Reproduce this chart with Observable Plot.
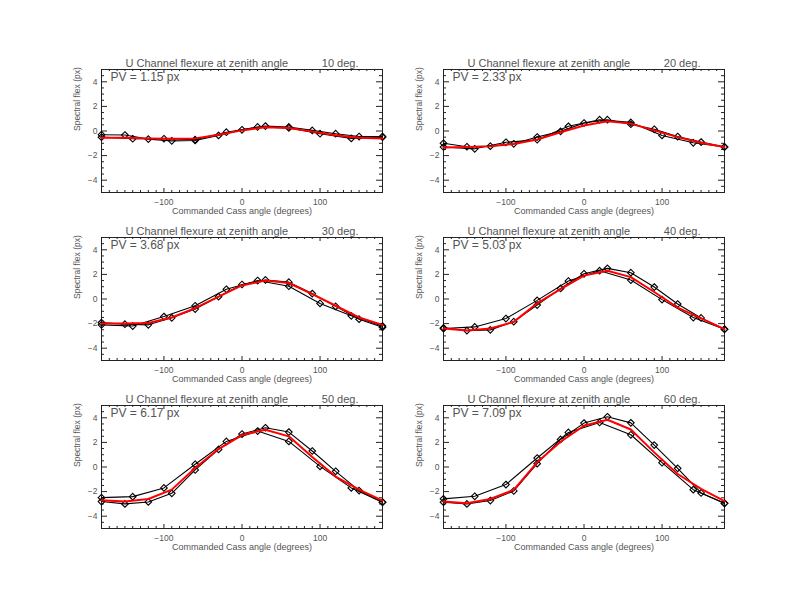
<!DOCTYPE html>
<html><head><meta charset="utf-8">
<script src="https://cdn.jsdelivr.net/npm/d3@7"></script>
<script src="https://cdn.jsdelivr.net/npm/@observablehq/plot@0.6"></script>
<style>
html,body{margin:0;padding:0;background:#fff;}
#wrap{position:relative;width:792px;height:612px;overflow:hidden;background:#fff;}
#wrap svg{position:absolute;overflow:visible;}
</style></head><body><div id="wrap"></div>
<script>
// Zenith angles and peak-to-valley labels
const zenithAngles = [10, 20, 30, 40, 50, 60];
const pvLabels = ["1.15", "2.33", "3.68", "5.03", "6.17", "7.09"];

// Commanded Cass angles of the two sweeps
const xSweepA = [-180, -150, -120, -90, -60, -30, 0, 30, 60, 90, 120, 150, 180];
const xSweepB = [-180, -140, -100, -60, -20, 20, 60, 100, 140, 180];

// Tick values
const xMajorTicks = [-100, 0, 100];
const yMajorTicks = [-4, -2, 0, 2, 4];
const xMinorTicks = d3.range(-180, 181, 10).filter(v => !xMajorTicks.includes(v));
const yMinorTicks = d3.range(-5, 5.01, 0.5).filter(v => !yMajorTicks.includes(v));

// Spectral flex (px), sweep A (every 30 deg)
const sweepA10 = [-0.30, -0.33, -0.66, -0.80, -0.77, -0.36, 0.10, 0.40, 0.33, 0.05, -0.22, -0.45, -0.45];
const sweepA20 = [-1.00, -1.28, -1.23, -1.04, -0.49, -0.03, 0.65, 0.92, 0.55, 0.14, -0.45, -0.90, -1.30];
const sweepA30 = [-1.92, -2.05, -2.10, -1.53, -0.82, 0.19, 1.18, 1.55, 1.37, 0.44, -0.60, -1.64, -2.30];
const sweepA40 = [-2.35, -2.57, -2.51, -1.84, -0.49, 0.86, 2.05, 2.49, 2.14, 0.97, -0.41, -1.54, -2.46];
const sweepA50 = [-2.81, -3.00, -2.84, -2.14, -0.24, 1.43, 2.68, 3.19, 2.84, 1.30, -0.35, -1.92, -2.86];
const sweepA60 = [-2.86, -3.00, -2.73, -1.95, 0.27, 2.24, 3.57, 4.08, 3.59, 1.78, -0.11, -2.11, -2.95];

// Spectral flex (px), sweep B (every 40 deg)
const sweepB10 = [-0.50, -0.63, -0.63, -0.70, -0.10, 0.33, 0.25, -0.22, -0.60, -0.50];
const sweepB20 = [-1.30, -1.45, -0.92, -0.71, 0.38, 0.92, 0.70, -0.36, -0.96, -1.30];
const sweepB30 = [-2.10, -2.20, -1.43, -0.55, 0.79, 1.50, 1.04, -0.36, -1.37, -2.20];
const sweepB40 = [-2.40, -2.27, -1.59, -0.11, 1.46, 2.30, 1.54, -0.05, -1.51, -2.46];
const sweepB50 = [-2.49, -2.41, -1.70, 0.22, 2.08, 2.92, 2.08, 0.05, -1.70, -2.86];
const sweepB60 = [-2.59, -2.38, -1.43, 0.73, 2.81, 3.62, 2.62, 0.35, -1.84, -2.95];

// Red fitted curve, sampled at sweep A angles
const fit10 = [-0.55, -0.55, -0.60, -0.62, -0.60, -0.30, 0.05, 0.30, 0.25, -0.05, -0.35, -0.55, -0.60];
const fit20 = [-1.35, -1.30, -1.25, -1.05, -0.70, -0.10, 0.45, 0.80, 0.60, 0.05, -0.50, -0.95, -1.30];
const fit30 = [-2.00, -2.00, -1.95, -1.50, -0.75, 0.20, 1.10, 1.50, 1.30, 0.40, -0.55, -1.50, -2.10];
const fit40 = [-2.40, -2.57, -2.40, -1.86, -0.35, 0.80, 1.90, 2.30, 1.78, 0.57, -0.70, -1.57, -2.45];
const fit50 = [-2.70, -2.80, -2.60, -1.84, -0.08, 1.46, 2.60, 3.03, 2.49, 0.81, -0.78, -1.84, -2.73];
const fit60 = [-2.81, -2.95, -2.60, -1.86, 0.38, 2.05, 3.35, 3.84, 3.05, 1.19, -0.57, -1.78, -2.78];

const sweepA = [sweepA10, sweepA20, sweepA30, sweepA40, sweepA50, sweepA60];
const sweepB = [sweepB10, sweepB20, sweepB30, sweepB40, sweepB50, sweepB60];
const fits = [fit10, fit20, fit30, fit40, fit50, fit60];

const W = 336, H = 178, mL = 45, mR = 10, mT = 25, mB = 30;
const fw = W - mL - mR, fh = H - mT - mB;
const colLeft = [56, 398];
const rowTop = [44, 212, 380];
const font = "'Liberation Sans', Arial, sans-serif";
const ink = "#222";
const txt = "#555";

const wrap = document.getElementById("wrap");

zenithAngles.forEach((za, i) => {
  const dA = xSweepA.map((x, j) => ({x, y: sweepA[i][j]}));
  const dB = xSweepB.map((x, j) => ({x, y: sweepB[i][j]}));
  const dR = xSweepA.map((x, j) => ({x, y: fits[i][j]}));
  const svg = Plot.plot({
    width: W, height: H,
    marginLeft: mL, marginRight: mR, marginTop: mT, marginBottom: mB,
    x: {domain: [-180, 180], label: null},
    y: {domain: [-5, 5], label: null},
    style: {fontFamily: font, fontSize: "8.5px", color: txt, background: "transparent"},
    marks: [
      Plot.ruleX(xMinorTicks, {insetTop: fh - 2, stroke: ink}),
      Plot.ruleX(xMinorTicks, {insetBottom: fh - 2, stroke: ink}),
      Plot.ruleX(xMajorTicks, {insetTop: fh - 4, stroke: ink}),
      Plot.ruleX(xMajorTicks, {insetBottom: fh - 4, stroke: ink}),
      Plot.ruleY(yMinorTicks, {insetRight: fw - 3, stroke: ink}),
      Plot.ruleY(yMinorTicks, {insetLeft: fw - 3, stroke: ink}),
      Plot.ruleY(yMajorTicks, {insetRight: fw - 6, stroke: ink}),
      Plot.ruleY(yMajorTicks, {insetLeft: fw - 6, stroke: ink}),
      Plot.frame({stroke: ink}),
      Plot.axisX(xMajorTicks, {tickSize: 0, tickPadding: 6, label: null, fill: txt}),
      Plot.axisY(yMajorTicks, {tickSize: 0, tickPadding: 4, label: null, fill: txt}),
      Plot.line(dA, {x: "x", y: "y", stroke: "black", strokeWidth: 1.1}),
      Plot.line(dB, {x: "x", y: "y", stroke: "black", strokeWidth: 1.1}),
      Plot.dot(dA, {x: "x", y: "y", symbol: "diamond2", r: 3, stroke: "black", strokeWidth: 1.1, fill: "none"}),
      Plot.dot(dB, {x: "x", y: "y", symbol: "diamond2", r: 3, stroke: "black", strokeWidth: 1.1, fill: "none"}),
      Plot.line(dR, {x: "x", y: "y", stroke: "#ff0000", strokeWidth: 2}),
      Plot.text(["U Channel flexure at zenith angle"], {frameAnchor: "top-left", textAnchor: "start", lineAnchor: "bottom", dx: 24, dy: -3, fontSize: 11, fill: txt}),
      Plot.text([za + " deg."], {frameAnchor: "top-right", textAnchor: "end", lineAnchor: "bottom", dx: -24, dy: -3, fontSize: 11, fill: txt}),
      Plot.text(["PV = " + pvLabels[i] + " px"], {frameAnchor: "top-left", textAnchor: "start", lineAnchor: "top", dx: 9, dy: 2.5, fontSize: 12, fill: txt}),
      Plot.text(["Commanded Cass angle (degrees)"], {frameAnchor: "bottom", lineAnchor: "middle", dy: 19, fontSize: 9, fill: txt}),
      Plot.text(["Spectral flex (px)"], {frameAnchor: "left", rotate: -90, dx: -24, fontSize: 8.5, fill: txt})
    ]
  });
  svg.style.left = colLeft[i % 2] + "px";
  svg.style.top = rowTop[Math.floor(i / 2)] + "px";
  wrap.appendChild(svg);
});
</script>
</body></html>
